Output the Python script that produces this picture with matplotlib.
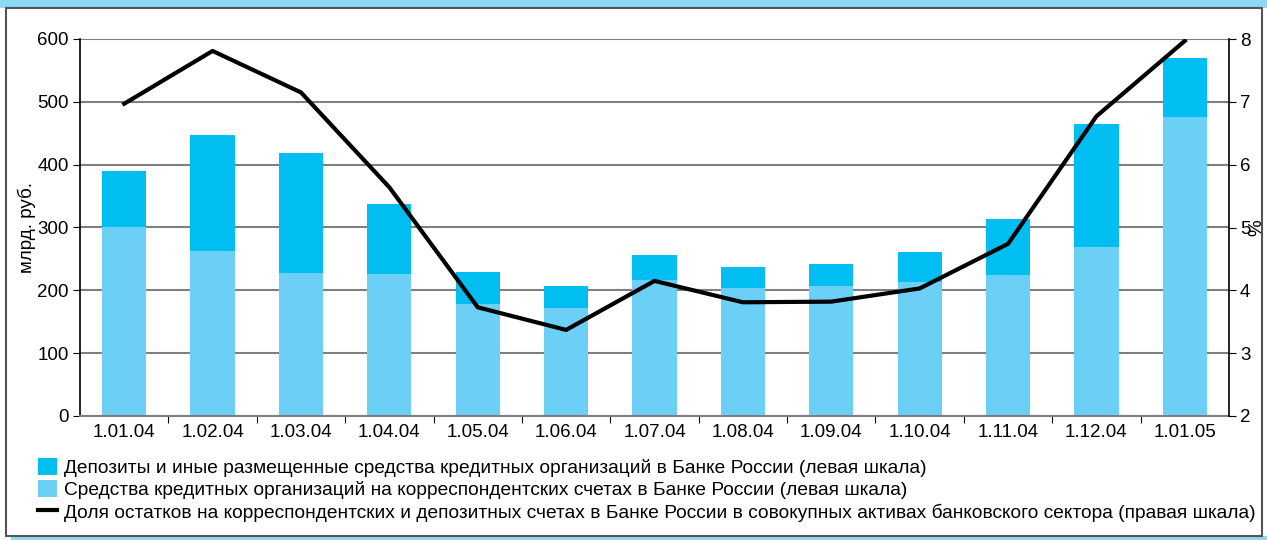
import matplotlib.pyplot as plt
from matplotlib.patches import Rectangle, Patch
from matplotlib.lines import Line2D

# даты (подписи оси X)
dates = ["1.01.04", "1.02.04", "1.03.04", "1.04.04", "1.05.04", "1.06.04", "1.07.04",
         "1.08.04", "1.09.04", "1.10.04", "1.11.04", "1.12.04", "1.01.05"]
# средства на корсчетах, млрд. руб.
corr_accounts = [301, 263, 228, 226, 179, 172, 216, 204, 207, 213, 225, 269, 476]
# депозиты в Банке России, млрд. руб.
deposits = [89, 184, 191, 111, 50, 35, 40, 33, 35, 48, 88, 196, 94]
# доля в активах банковского сектора, %
share = [6.97, 7.81, 7.15, 5.64, 3.73, 3.37, 4.15, 3.81, 3.82, 4.03, 4.74, 6.77, 7.97]

legend_labels = [
    "Депозиты и иные размещенные средства кредитных организаций в Банке России (левая шкала)",
    "Средства кредитных организаций на корреспондентских счетах в Банке России (левая шкала)",
    "Доля остатков на корреспондентских и депозитных счетах в Банке России в совокупных активах банковского сектора (правая шкала)",
]

DARK = "#00BDF2"
LIGHT = "#6CCFF6"
GRID = "#7F7F7F"

plt.rcParams["font.family"] = ["Liberation Sans", "DejaVu Sans"]

fig = plt.figure(figsize=(12.67, 5.40), dpi=100)

# полоса заголовка сверху и рамка
fig.patches.append(Rectangle((0, 1 - 8 / 540), 1, 8 / 540, transform=fig.transFigure,
                             facecolor="#8ED8F7", edgecolor="none", zorder=-2))
fig.patches.append(Rectangle((11 / 1267, 0), 1 - 11 / 1267, 4 / 540, transform=fig.transFigure,
                             facecolor="#8ED8F7", edgecolor="none", zorder=-2))
fig.patches.append(Rectangle((6 / 1267, 4 / 540), 1256 / 1267, 528 / 540, transform=fig.transFigure,
                             facecolor="white", edgecolor="#555555", linewidth=1.5, zorder=-1))

ax = fig.add_axes([80 / 1267, 1 - 416 / 540, 1149 / 1267, 377 / 540])
ax.set_facecolor("none")
x = list(range(len(dates)))

ax.bar(x, corr_accounts, width=0.5, color=LIGHT, zorder=2)
ax.bar(x, deposits, width=0.5, bottom=corr_accounts, color=DARK, zorder=2)

ax.set_ylim(0, 600)
ax.set_xlim(-0.5, len(dates) - 0.5)
ax.set_yticks(range(0, 601, 100))
ax.yaxis.grid(True, color=GRID, linewidth=1.5, zorder=1)
ax.set_axisbelow(True)

# тики X между категориями
ax.set_xticks([i + 0.5 for i in x[:-1]])
ax.set_xticklabels([])
ax.set_xticks(x, minor=True)
ax.set_xticklabels(dates, minor=True, fontsize=13.5)
ax.tick_params(axis="x", which="minor", length=0, pad=6)
ax.tick_params(axis="x", which="major", length=5, color="black", direction="out")
ax.tick_params(axis="y", labelsize=13.5, length=5, direction="out", pad=3)

for s in ["top", "right"]:
    ax.spines[s].set_visible(False)
ax.spines["left"].set_linewidth(1.2)
ax.spines["bottom"].set_color(GRID)
ax.spines["bottom"].set_linewidth(1.5)

ax.set_ylabel("млрд. руб.", fontsize=13.5)
ax.yaxis.set_label_coords(-0.038, 0.5)

ax2 = ax.twinx()
ax2.plot(x, share, color="black", linewidth=3, zorder=5)
ax2.set_ylim(2, 8)
ax2.set_yticks(range(2, 9))
ax2.tick_params(axis="y", labelsize=13.5, length=5, direction="out", pad=3)
for s in ["top", "left", "bottom"]:
    ax2.spines[s].set_visible(False)
ax2.spines["right"].set_linewidth(1.2)
ax2.set_ylabel("%", fontsize=13.5)
ax2.yaxis.set_label_coords(1.017, 0.5)

handles = [
    Patch(facecolor=DARK, edgecolor="none"),
    Patch(facecolor=LIGHT, edgecolor="none"),
    Line2D([0], [0], color="black", linewidth=3),
]
fig.legend(handles, legend_labels, loc="upper left", bbox_to_anchor=(30 / 1267, 1 - 450 / 540),
           frameon=False, handlelength=1.0, handleheight=1.0, handletextpad=0.4,
           labelspacing=0.18, borderaxespad=0,
           prop={"family": ["Liberation Sans Narrow", "Liberation Sans"], "size": 13.8})

fig.savefig("out.png", dpi=100)
